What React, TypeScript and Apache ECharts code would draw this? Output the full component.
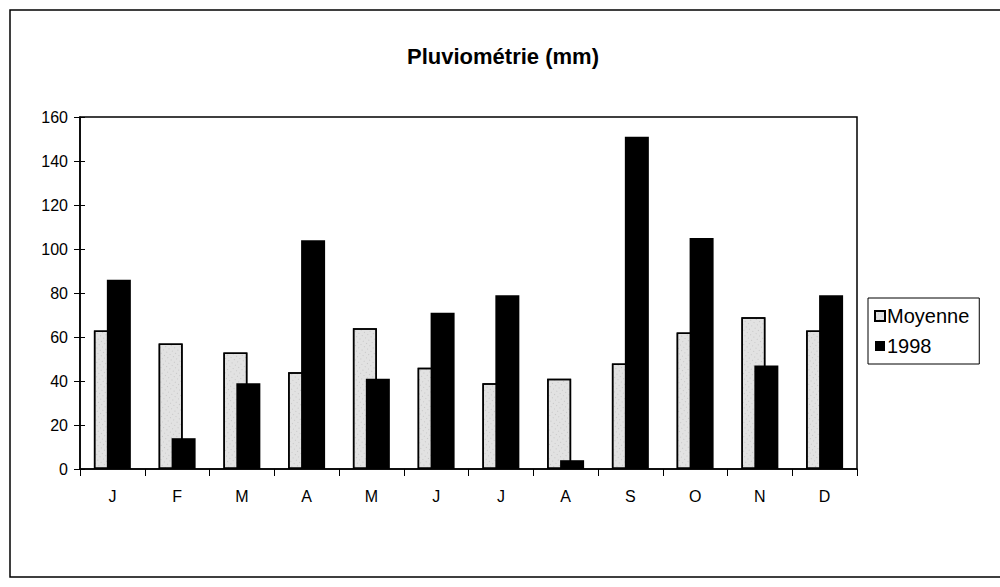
import React, { useEffect, useRef } from "react";
import * as echarts from "echarts";

const months = ["J", "F", "M", "A", "M", "J", "J", "A", "S", "O", "N", "D"];
const moyenne = [63, 57, 53, 44, 64, 46, 39, 41, 48, 62, 69, 63];
const y1998 = [86, 14, 39, 104, 41, 71, 79, 4, 151, 105, 47, 79];
const yTicks = { min: 0, max: 160, interval: 20 };

export default function App() {
  const ref = useRef<HTMLDivElement>(null);
  useEffect(() => {
    document.body.style.margin = "0";
    const chart = echarts.init(ref.current!, null, { renderer: "svg" });
    const font = "'Liberation Sans', Arial, sans-serif";
    chart.setOption({
      animation: false,
      backgroundColor: "#fff",
      aria: { enabled: true, decal: { show: true } },
      title: {
        text: "Pluviométrie (mm)",
        left: 498,
        textAlign: "center",
        top: 40,
        textStyle: { fontFamily: font, fontSize: 22, fontWeight: "bold", color: "#000" },
      },
      graphic: [
        {
          type: "rect",
          shape: { x: 10, y: 10, width: 1000, height: 567 },
          style: { fill: "none", stroke: "#000", lineWidth: 1.5 },
          silent: true,
        },
      ],
      legend: {
        orient: "vertical",
        left: 868,
        top: 298,
        padding: [8, 10, 8, 6],
        itemGap: 10,
        itemWidth: 10,
        itemHeight: 10,
        icon: "rect",
        borderColor: "#000",
        borderWidth: 1,
        textStyle: { fontFamily: font, fontSize: 20, color: "#000", padding: [0, 0, 0, -3] },
        data: ["Moyenne", "1998"],
      },
      grid: { left: 80, right: 143, top: 117, bottom: 118, show: true, borderColor: "#000", borderWidth: 1.5 },
      xAxis: {
        type: "category",
        data: months,
        axisLine: { lineStyle: { color: "#000", width: 1.5 } },
        axisTick: { show: true, length: 7, lineStyle: { color: "#000" } },
        axisLabel: { fontFamily: font, fontSize: 16, color: "#000", margin: 19 },
        splitLine: { show: false },
      },
      yAxis: [
        {
          type: "value",
          min: yTicks.min,
          max: yTicks.max,
          interval: yTicks.interval,
          axisLine: { show: true, lineStyle: { color: "#000", width: 1.5 } },
          axisTick: { show: true, length: 6, lineStyle: { color: "#000" } },
          axisLabel: { fontFamily: font, fontSize: 16, color: "#000", margin: 12 },
          splitLine: { show: false },
        },
        {
          type: "value",
          position: "left",
          min: yTicks.min,
          max: yTicks.max,
          interval: yTicks.interval,
          axisLine: { show: false },
          axisTick: { show: true, inside: true, length: 5, lineStyle: { color: "#000" } },
          axisLabel: { show: false },
          splitLine: { show: false },
        },
      ],
      series: [
        {
          name: "Moyenne",
          type: "bar",
          data: moyenne,
          barWidth: 24,
          barGap: "-46%",
          itemStyle: {
            color: "#e2e2e2",
            borderColor: "#000",
            borderWidth: 1.5,
            decal: {
              symbol: "rect",
              symbolSize: 0.6,
              color: "rgba(0,0,0,0.4)",
              dashArrayX: [1, 3],
              dashArrayY: [1, 3],
              rotation: 0.6,
            },
          },
        },
        {
          name: "1998",
          type: "bar",
          data: y1998,
          barWidth: 24,
          itemStyle: { color: "#000", decal: { symbol: "none" } },
        },
      ],
    });
    return () => chart.dispose();
  }, []);
  return <div ref={ref} style={{ width: 1000, height: 587 }} />;
}
